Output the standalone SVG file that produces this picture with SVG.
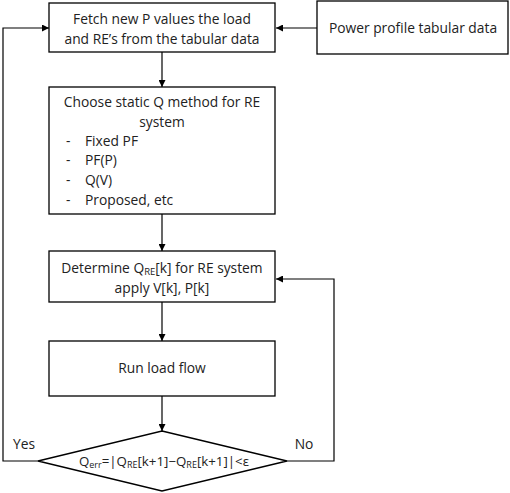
<svg xmlns="http://www.w3.org/2000/svg" width="510" height="493" viewBox="0 0 510 493">
<defs>
<style>
.box{fill:#fff;stroke:#000;stroke-width:1.3}
.ln{fill:none;stroke:#000;stroke-width:1.2}
text{font-family:"Open Sans","Liberation Sans",Arial,sans-serif;font-size:13.8px;fill:#222}
.c{text-anchor:middle}
.s{font-size:9.5px}
.d{font-size:13.3px}
.d .s{font-size:9px}
</style>
<marker id="ah" viewBox="0 0 10 10" refX="10" refY="5" markerWidth="7" markerHeight="7" markerUnits="userSpaceOnUse" orient="auto">
<path d="M0,0 L10,5 L0,10 z" fill="#000"/>
</marker>
</defs>
<rect width="510" height="493" fill="#fff"/>
<g id="connectors">
<path class="ln" d="M317,28 H276" marker-end="url(#ah)"/>
<path class="ln" d="M162,52 V87" marker-end="url(#ah)"/>
<path class="ln" d="M162,214 V251" marker-end="url(#ah)"/>
<path class="ln" d="M162,302 V341" marker-end="url(#ah)"/>
<path class="ln" d="M162,396 V431" marker-end="url(#ah)"/>
<path class="ln" d="M38,461 H3 V28 H49" marker-end="url(#ah)"/>
<path class="ln" d="M287,461 H334 V279 H276" marker-end="url(#ah)"/>
<text x="24" y="449" class="c">Yes</text>
<text x="304" y="449" class="c">No</text>
</g>
<g id="fetch">
<rect class="box" x="49" y="3" width="226" height="49"/>
<text x="162" y="24" class="c">Fetch new P values the load</text>
<text x="162" y="44" class="c">and RE’s from the tabular data</text>
</g>
<g id="profile">
<rect class="box" x="317" y="1" width="191" height="53"/>
<text x="413" y="33" class="c">Power profile tabular data</text>
</g>
<g id="choose">
<rect class="box" x="49" y="87" width="226" height="127"/>
<text x="162" y="107" class="c">Choose static Q method  for RE</text>
<text x="162" y="127" class="c">system</text>
<text x="66" y="146">-</text><text x="85" y="146">Fixed PF</text>
<text x="66" y="165">-</text><text x="85" y="165">PF(P)</text>
<text x="66" y="185">-</text><text x="85" y="185">Q(V)</text>
<text x="66" y="205">-</text><text x="85" y="205">Proposed, etc</text>
</g>
<g id="determine">
<rect class="box" x="49" y="251" width="226" height="51"/>
<text x="162" y="273" class="c">Determine Q<tspan class="s" dy="2">RE</tspan><tspan dy="-2">[k] for RE system</tspan></text>
<text x="162" y="293" class="c">apply V[k], P[k]</text>
</g>
<g id="loadflow">
<rect class="box" x="49" y="341" width="226" height="55"/>
<text x="162" y="373" class="c">Run load flow</text>
</g>
<g id="check">
<polygon class="box" points="162,431 287,461 162,491 38,461"/>
<text x="164" y="466" class="c d">Q<tspan class="s" dy="2">err</tspan><tspan dy="-2">=|Q</tspan><tspan class="s" dy="2">RE</tspan><tspan dy="-2">[k+1]−Q</tspan><tspan class="s" dy="2">RE</tspan><tspan dy="-2">[k+1]|&lt;ε</tspan></text>
</g>
</svg>
